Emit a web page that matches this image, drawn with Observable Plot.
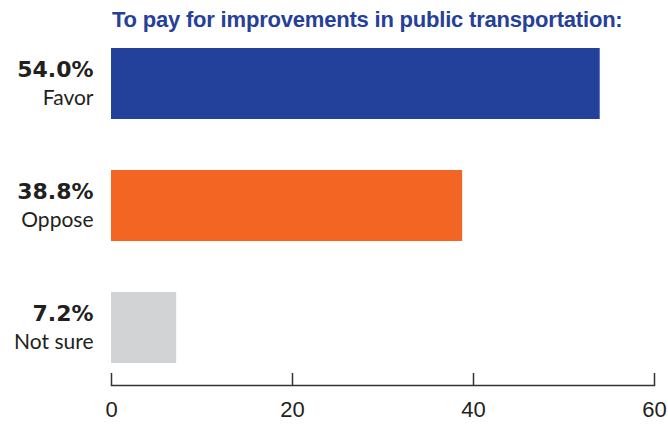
<!DOCTYPE html>
<html>
<head>
<meta charset="utf-8">
<script src="https://cdn.jsdelivr.net/npm/d3@7"></script>
<script src="https://cdn.jsdelivr.net/npm/@observablehq/plot@0.6"></script>
<style>
  html, body { margin: 0; padding: 0; background: #fff; }
  #wrap { position: relative; width: 668px; height: 430px; overflow: hidden; }
  #title {
    position: absolute; left: 112px; top: 7px;
    font-family: "Liberation Sans", Arial, sans-serif; font-weight: bold;
    font-size: 22px; line-height: 25px; color: #25409A; white-space: nowrap; letter-spacing: -0.2px;
  }
  #chart { position: absolute; left: 0; top: 40px; }
</style>
</head>
<body>
<div id="wrap">
  <div id="title">To pay for improvements in public transportation:</div>
  <div id="chart"></div>
</div>
<script>
const categories = ["Favor", "Oppose", "Not sure"];
const shares = [54.0, 38.8, 7.2];
const barColors = ["#23409A", "#F26522", "#D1D3D4"];
const xTicks = [0, 20, 40, 60];

const rows = categories.map((c, i) => ({category: c, share: shares[i], color: barColors[i]}));

const chart = Plot.plot({
  width: 668,
  height: 390,
  marginLeft: 111,
  marginRight: 14,
  marginTop: 0,
  marginBottom: 45,
  style: {background: "transparent", overflow: "visible"},
  x: {domain: [0, 60], ticks: xTicks},
  y: {type: "band", domain: categories, range: [7, 323], paddingInner: 0.42, paddingOuter: 0, axis: null},
  marks: [
    Plot.barX(rows, {x: "share", y: "category", fill: "color"}),
    // percentage above each category name
    Plot.text(rows, {
      x: 0, y: "category", text: d => `${d.share.toFixed(1)}%`,
      textAnchor: "end", dx: -18, dy: -14,
      fontSize: 22, fontWeight: "bold", fill: "#231F20", fontFamily: "'DejaVu Sans', sans-serif"
    }),
    Plot.text(rows, {
      x: 0, y: "category", text: "category",
      textAnchor: "end", dx: -18, dy: 14,
      fontSize: 21, fill: "#231F20", fontFamily: "Lato, 'Open Sans', sans-serif"
    }),
    // baseline and upward tick marks
    Plot.frame({anchor: "bottom", stroke: "#333", strokeWidth: 1.5}),
    Plot.ruleX(xTicks, {stroke: "#333", strokeWidth: 1.5, insetTop: 333}),
    Plot.axisX(xTicks, {
      tickSize: 0, tickPadding: 16, fontSize: 22, label: null,
      fill: "#231F20", fontFamily: "'Liberation Sans', Arial, sans-serif"
    })
  ]
});

document.getElementById("chart").appendChild(chart);
</script>
</body>
</html>
